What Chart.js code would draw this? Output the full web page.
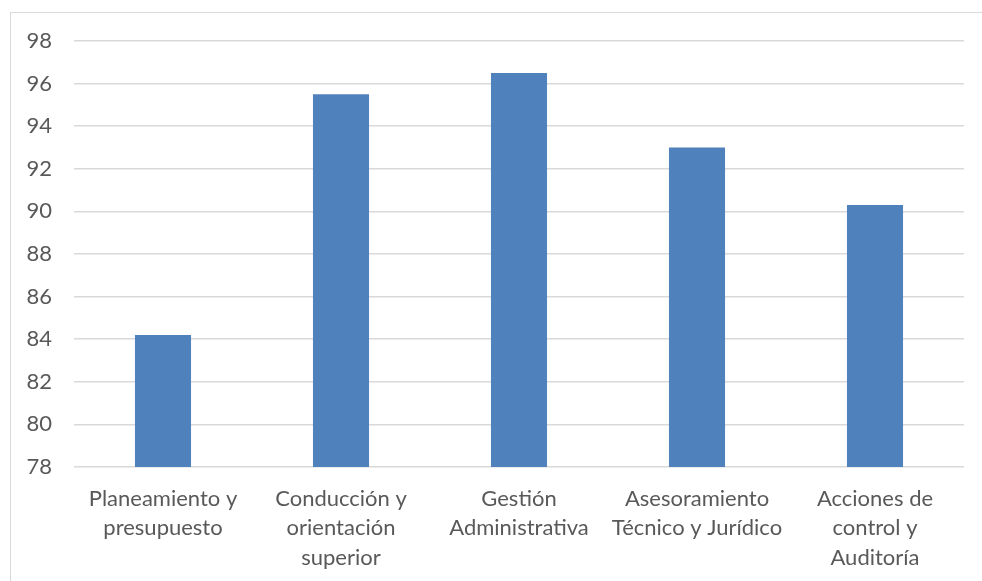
<!DOCTYPE html>
<html>
<head>
<meta charset="utf-8">
<script src="https://cdn.jsdelivr.net/npm/chart.js@4.4.0/dist/chart.umd.min.js"></script>
<style>
  html, body { margin: 0; padding: 0; background: #fff; }
  #frame { position: absolute; left: 10px; top: 12px; width: 990px; height: 600px; border: 1px solid #d9d9d9; }
  #wrap { position: absolute; left: 0; top: 0; width: 982px; height: 581px; }
</style>
</head>
<body>
<div id="frame"></div>
<div id="wrap"><canvas id="myChart"></canvas></div>
<script>
// categorias (multilinea) y valores
const categorias = [
  ['Planeamiento y', 'presupuesto'],
  ['Conducción y', 'orientación', 'superior'],
  ['Gestión', 'Administrativa'],
  ['Asesoramiento', 'Técnico y Jurídico'],
  ['Acciones de', 'control y', 'Auditoría']
];
const valores = [84.2, 95.5, 96.5, 93.0, 90.3];
const ejeMin = 78;
const ejeMax = 98;
const ejePaso = 2;

const data = {
  labels: categorias,
  datasets: [{
    label: 'Serie 1',
    backgroundColor: '#4F81BD',
    borderColor: '#4F81BD',
    borderWidth: 0,
    data: valores,
    categoryPercentage: 1,
    barPercentage: 0.315
  }]
};

const fuente = { family: 'Lato', size: 22 };

const config = {
  type: 'bar',
  data: data,
  options: {
    responsive: true,
    maintainAspectRatio: false,
    animation: false,
    layout: { padding: { top: 41, right: 18, left: 0, bottom: 0 } },
    plugins: { legend: { display: false }, tooltip: { enabled: false } },
    scales: {
      x: {
        grid: { display: false, drawTicks: false },
        border: { display: false },
        ticks: { color: '#595959', font: Object.assign({ lineHeight: 1.34 }, fuente), padding: 17, maxRotation: 0, autoSkip: false },
        afterFit: function(scale) { scale.height = 114; }
      },
      y: {
        min: ejeMin,
        max: ejeMax,
        grid: { color: '#d9d9d9', lineWidth: 1.5, drawTicks: false },
        border: { display: false },
        ticks: { stepSize: ejePaso, color: '#595959', font: fuente, padding: 22 },
        afterFit: function(scale) { scale.width = 74; }
      }
    }
  }
};

const myChart = new Chart(document.getElementById('myChart'), config);
</script>
</body>
</html>
